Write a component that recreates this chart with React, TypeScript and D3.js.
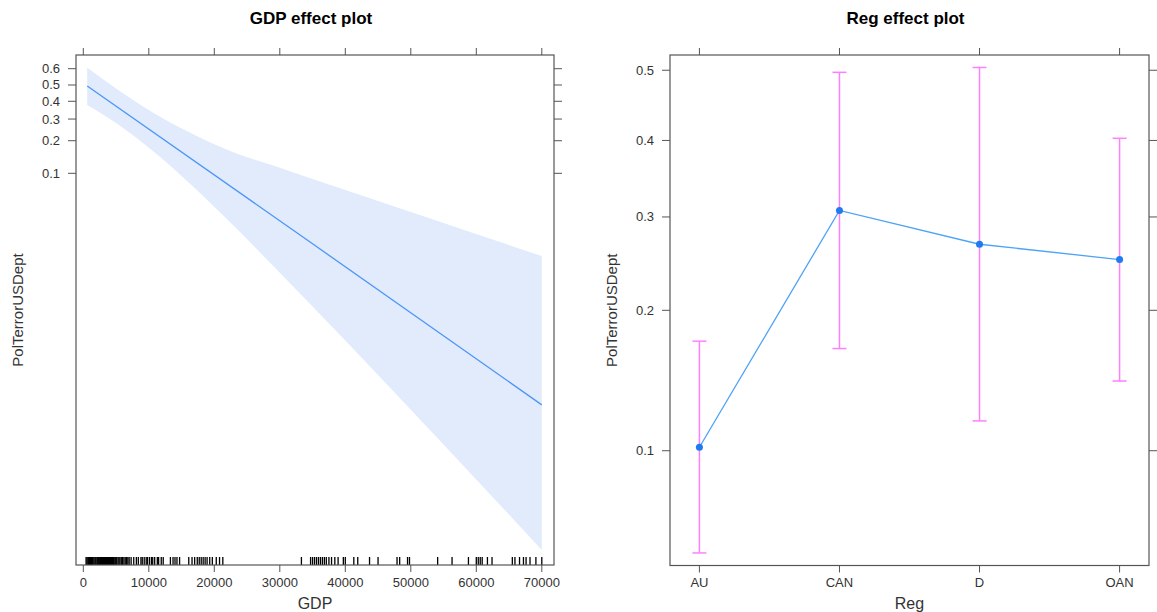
import React from "react";
import * as d3 from "d3";

// ---------- data ----------
const gdpTicks = [0, 10000, 20000, 30000, 40000, 50000, 60000, 70000];
const leftYTicks = [0.1, 0.2, 0.3, 0.4, 0.5, 0.6];
const bandGDP = [600, 5000, 11000, 17000, 23000, 29000, 35000, 45000, 55000, 70000];
const bandUpper = [0.6059, 0.4782, 0.3271, 0.2238, 0.1572, 0.1189, 0.088, 0.0529, 0.0313, 0.014];
const bandLower = [0.3781, 0.2798, 0.1556, 0.0716, 0.0291, 0.01096, 0.00403, 0.000736, 0.0001305, 0.0000095];
const fitGDP = [600, 35000, 70000];
const fitGDPValues = [0.494, 0.0189, 0.00035];
const rugGDP = [
  420, 560, 700, 820, 950, 1100, 1230, 1380, 1500, 1650, 1800, 1920, 2080, 2200, 2350, 2500,
  2650, 2800, 2950, 3100, 3250, 3400, 3550, 3700, 3850, 4000, 4150, 4300, 4450, 4600, 4800,
  4950, 5100, 5300, 5450, 5600, 5800, 6000, 6200, 6400, 6600, 6800, 7000, 7300,
  7700, 8100, 8400, 8800, 9000, 9300, 9600, 9800, 10100, 10400, 10600, 10900, 11300, 11500,
  11900, 12200, 13300, 13700, 14000, 14300, 14700,
  16100, 16600, 17000, 17400, 17700, 18000, 18300, 18600, 18900, 19300, 19700, 20300, 20800, 21300,
  33300, 34700, 35000, 35300, 35600, 35900, 36200, 36500, 36800, 37100, 37500, 37900, 38400,
  38900, 39700, 40000, 41300, 41900, 43700, 45000, 47900, 48300, 49500, 49800, 54100, 56300,
  58800, 60000, 60300, 60600, 60900, 61700, 62400, 65500, 65900, 66600, 67200, 67600, 68200,
  69100, 70000,
];

const regions = ["AU", "CAN", "D", "OAN"];
const regFit = [0.1018, 0.308, 0.268, 0.251];
const regLower = [0.058, 0.167, 0.1166, 0.1425];
const regUpper = [0.173, 0.497, 0.504, 0.403];
const rightYTicks = [0.1, 0.2, 0.3, 0.4, 0.5];

// ---------- helpers ----------
const logit = (p: number) => Math.log(p / (1 - p));
const FONT = "'Liberation Sans', Arial, Helvetica, sans-serif";
const BOX = "#555";
const TXT = "#333";
const TICK = 8;
const TICKFS = 13;
const LABFS = 16;

export default function App() {
  // left panel
  const L = { x0: 76, x1: 554, y0: 55, y1: 565 };
  const xL = d3.scaleLinear().domain([-1115, 71863]).range([L.x0, L.x1]);
  const yL = d3.scaleLinear().domain([-11.94, 0.746]).range([L.y1, L.y0]);

  // right panel
  const R = { x0: 670, x1: 1149, y0: 55, y1: 565.5 };
  const xR = d3.scalePoint<string>().domain(regions).range([R.x0, R.x1]).padding(0.21);
  const yR = d3.scaleLinear().domain([-2.86, 0.088]).range([R.y1, R.y0]);

  const bandData = bandGDP.map((g, i) => ({ g, lo: bandLower[i], hi: bandUpper[i] }));
  const area = d3
    .area<{ g: number; lo: number; hi: number }>()
    .x((d) => xL(d.g))
    .y0((d) => yL(logit(d.lo)))
    .y1((d) => yL(logit(d.hi)))
    .curve(d3.curveMonotoneX);
  const fitLine = d3
    .line<number>()
    .x((_, i) => xL(fitGDP[i]))
    .y((d) => yL(logit(d)));
  const regLine = d3
    .line<number>()
    .x((_, i) => xR(regions[i]) as number)
    .y((d) => yR(logit(d)));

  return (
    <svg
      width={1157}
      height={612}
      style={{ position: "absolute", left: 0, top: 0, background: "#fff" }}
      fontFamily={FONT}
    >
      <rect width={1157} height={612} fill="#fff" />
      {/* ===== Left panel ===== */}
      <text x={(L.x0 + L.x1) / 2 - 4} y={24} textAnchor="middle" fontSize={17} fontWeight="bold" fill="#000">
        GDP effect plot
      </text>
      <path d={area(bandData) || ""} fill="#e1ebfc" stroke="none" />
      <path d={fitLine(fitGDPValues) || ""} fill="none" stroke="#4d96f7" strokeWidth={1.3} />
      {rugGDP.map((g, i) => (
        <line key={i} x1={xL(g)} x2={xL(g)} y1={L.y1 - 8} y2={L.y1} stroke="#000" strokeWidth={1.3} />
      ))}
      <rect x={L.x0} y={L.y0} width={L.x1 - L.x0} height={L.y1 - L.y0} fill="none" stroke={BOX} strokeWidth={1.2} />
      {gdpTicks.map((t) => (
        <g key={t}>
          <line x1={xL(t)} x2={xL(t)} y1={L.y1} y2={L.y1 + 7} stroke={BOX} />
          <line x1={xL(t)} x2={xL(t)} y1={L.y0} y2={L.y0 - 7} stroke={BOX} />
          <text x={xL(t)} y={587} textAnchor="middle" fontSize={TICKFS} fill={TXT}>
            {t}
          </text>
        </g>
      ))}
      {leftYTicks.map((t) => (
        <g key={t}>
          <line x1={L.x0} x2={L.x0 - TICK} y1={yL(logit(t))} y2={yL(logit(t))} stroke={BOX} />
          <line x1={L.x1} x2={L.x1 + TICK} y1={yL(logit(t))} y2={yL(logit(t))} stroke={BOX} />
          <text x={L.x0 - 16} y={yL(logit(t)) + 4.5} textAnchor="end" fontSize={TICKFS} fill={TXT}>
            {t}
          </text>
        </g>
      ))}
      <text x={(L.x0 + L.x1) / 2} y={609} textAnchor="middle" fontSize={LABFS} fill={TXT}>
        GDP
      </text>
      <text
        transform={`translate(23,${(L.y0 + L.y1) / 2}) rotate(-90)`}
        textAnchor="middle"
        fontSize={15}
        fill={TXT}
      >
        PolTerrorUSDept
      </text>

      {/* ===== Right panel ===== */}
      <text x={(R.x0 + R.x1) / 2 - 4} y={24} textAnchor="middle" fontSize={17} fontWeight="bold" fill="#000">
        Reg effect plot
      </text>
      <rect x={R.x0} y={R.y0} width={R.x1 - R.x0} height={R.y1 - R.y0} fill="none" stroke={BOX} strokeWidth={1.2} />
      {regions.map((r, i) => {
        const cx = xR(r) as number;
        return (
          <g key={r}>
            <line x1={cx} x2={cx} y1={yR(logit(regLower[i]))} y2={yR(logit(regUpper[i]))} stroke="#ff80ff" strokeWidth={1.5} />
            <line x1={cx - 7} x2={cx + 7} y1={yR(logit(regLower[i]))} y2={yR(logit(regLower[i]))} stroke="#ff80ff" strokeWidth={1.5} />
            <line x1={cx - 7} x2={cx + 7} y1={yR(logit(regUpper[i]))} y2={yR(logit(regUpper[i]))} stroke="#ff80ff" strokeWidth={1.5} />
          </g>
        );
      })}
      <path d={regLine(regFit) || ""} fill="none" stroke="#4da3f7" strokeWidth={1.3} />
      {regions.map((r, i) => (
        <circle key={r} cx={xR(r) as number} cy={yR(logit(regFit[i]))} r={3.5} fill="#1f7bf0" />
      ))}
      {regions.map((r) => {
        const cx = xR(r) as number;
        return (
          <g key={r}>
            <line x1={cx} x2={cx} y1={R.y1} y2={R.y1 + 7} stroke={BOX} />
            <line x1={cx} x2={cx} y1={R.y0} y2={R.y0 - 7} stroke={BOX} />
            <text x={cx} y={587} textAnchor="middle" fontSize={TICKFS} fill={TXT}>
              {r}
            </text>
          </g>
        );
      })}
      {rightYTicks.map((t) => (
        <g key={t}>
          <line x1={R.x0} x2={R.x0 - TICK} y1={yR(logit(t))} y2={yR(logit(t))} stroke={BOX} />
          <line x1={R.x1} x2={R.x1 + TICK} y1={yR(logit(t))} y2={yR(logit(t))} stroke={BOX} />
          <text x={R.x0 - 16} y={yR(logit(t)) + 4.5} textAnchor="end" fontSize={TICKFS} fill={TXT}>
            {t}
          </text>
        </g>
      ))}
      <text x={(R.x0 + R.x1) / 2} y={609} textAnchor="middle" fontSize={LABFS} fill={TXT}>
        Reg
      </text>
      <text
        transform={`translate(617,${(R.y0 + R.y1) / 2}) rotate(-90)`}
        textAnchor="middle"
        fontSize={15}
        fill={TXT}
      >
        PolTerrorUSDept
      </text>
    </svg>
  );
}
